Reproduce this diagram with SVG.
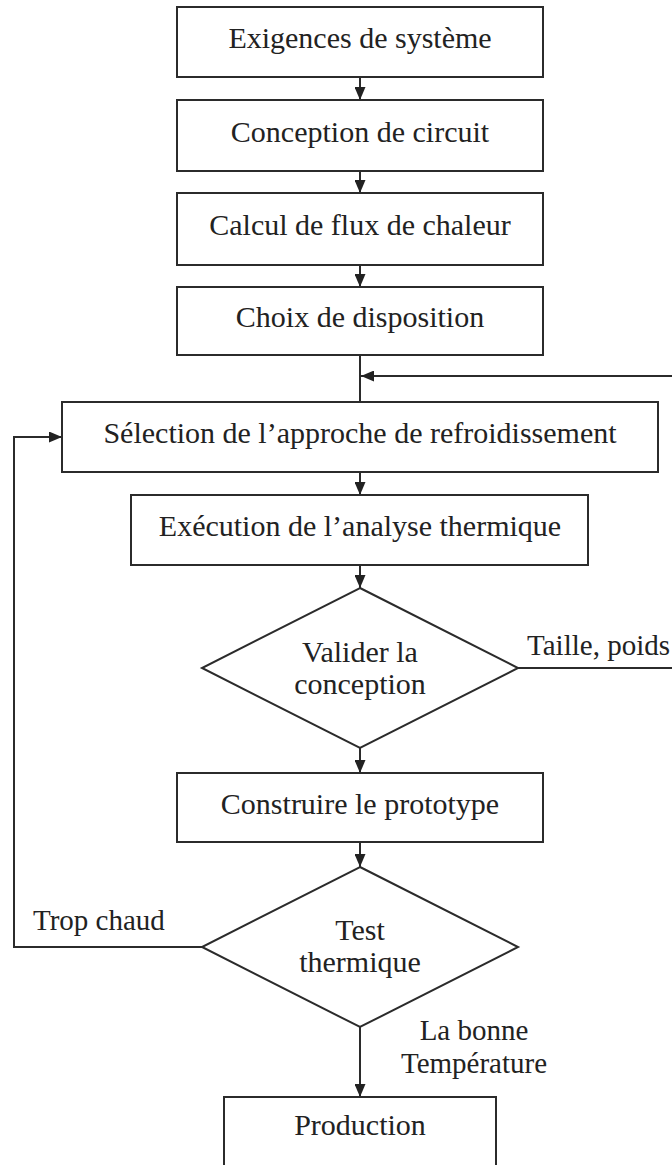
<svg xmlns="http://www.w3.org/2000/svg" width="672" height="1165" viewBox="0 0 672 1165">
  <style>
    .box { fill: #ffffff; stroke: #2b2b2b; stroke-width: 2; }
    .lbl { font-family: "Liberation Serif", "Times New Roman", serif; font-size: 30px; fill: #222222; text-anchor: middle; }
    .side { font-family: "Liberation Serif", "Times New Roman", serif; font-size: 29px; fill: #222222; }
    .wire { fill: none; stroke: #2b2b2b; stroke-width: 2; }
  </style>
  <defs>
    <marker id="arrow" viewBox="0 0 13 11" refX="13" refY="5.5" markerWidth="13" markerHeight="11" orient="auto" markerUnits="userSpaceOnUse">
      <path d="M0,0 L13,5.5 L0,11 z" fill="#222222"/>
    </marker>
  </defs>
  <rect width="672" height="1165" fill="#ffffff"/>

  <!-- connectors -->
  <g id="connectors">
    <path class="wire" d="M360,77 V100" marker-end="url(#arrow)"/>
    <path class="wire" d="M360,171 V193" marker-end="url(#arrow)"/>
    <path class="wire" d="M360,265 V287" marker-end="url(#arrow)"/>
    <path class="wire" d="M360,355 V402"/>
    <path class="wire" d="M673,376 H361" marker-end="url(#arrow)"/>
    <path class="wire" d="M360,472 V495" marker-end="url(#arrow)"/>
    <path class="wire" d="M360,565 V588" marker-end="url(#arrow)"/>
    <path class="wire" d="M518,668 H673"/>
    <path class="wire" d="M360,748 V773" marker-end="url(#arrow)"/>
    <path class="wire" d="M360,842 V867" marker-end="url(#arrow)"/>
    <path class="wire" d="M202,947 H14 V437 H62" marker-end="url(#arrow)"/>
    <path class="wire" d="M360,1027 V1097" marker-end="url(#arrow)"/>
    <text class="side" x="670" y="655" text-anchor="end">Taille, poids</text>
    <text class="side" x="33" y="930">Trop chaud</text>
    <text class="side" x="474" y="1040" text-anchor="middle">La bonne</text>
    <text class="side" x="474" y="1073" text-anchor="middle">Température</text>
  </g>

  <g id="exigences">
    <rect class="box" x="177" y="7" width="366" height="70"/>
    <text class="lbl" x="360" y="48">Exigences de système</text>
  </g>
  <g id="conception">
    <rect class="box" x="177" y="100" width="366" height="71"/>
    <text class="lbl" x="360" y="142">Conception de circuit</text>
  </g>
  <g id="calcul">
    <rect class="box" x="177" y="193" width="366" height="72"/>
    <text class="lbl" x="360" y="235">Calcul de flux de chaleur</text>
  </g>
  <g id="disposition">
    <rect class="box" x="177" y="287" width="366" height="68"/>
    <text class="lbl" x="360" y="327">Choix de disposition</text>
  </g>
  <g id="selection">
    <rect class="box" x="62" y="402" width="596" height="70"/>
    <text class="lbl" x="360" y="443">Sélection de l’approche de refroidissement</text>
  </g>
  <g id="execution">
    <rect class="box" x="131" y="495" width="457" height="70"/>
    <text class="lbl" x="360" y="536">Exécution de l’analyse thermique</text>
  </g>
  <g id="valider">
    <polygon class="box" points="360,588 518,668 360,748 202,668"/>
    <text class="lbl" x="360" y="662">Valider la</text>
    <text class="lbl" x="360" y="694">conception</text>
  </g>
  <g id="prototype">
    <rect class="box" x="177" y="773" width="366" height="69"/>
    <text class="lbl" x="360" y="814">Construire le prototype</text>
  </g>
  <g id="test">
    <polygon class="box" points="360,867 518,947 360,1027 202,947"/>
    <text class="lbl" x="360" y="940">Test</text>
    <text class="lbl" x="360" y="972">thermique</text>
  </g>
  <g id="production">
    <rect class="box" x="224" y="1097" width="272" height="90"/>
    <text class="lbl" x="360" y="1135">Production</text>
  </g>
</svg>
